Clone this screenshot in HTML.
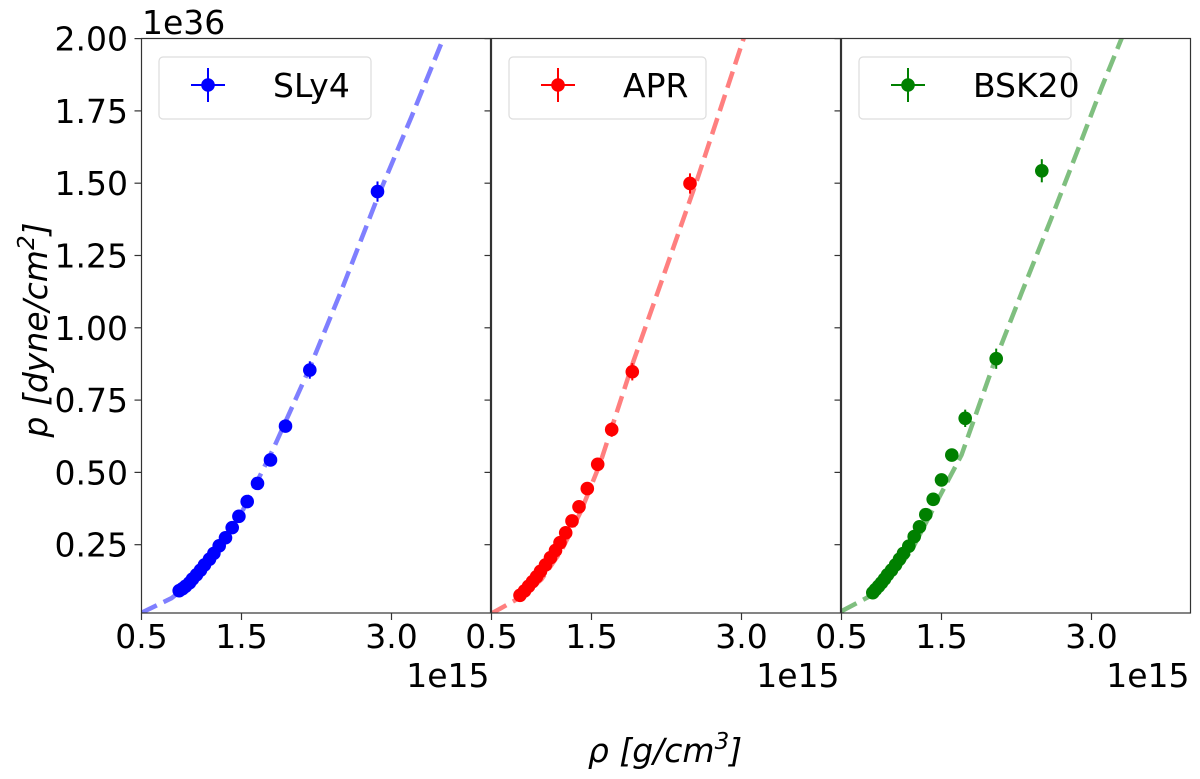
<!DOCTYPE html>
<html><head><meta charset="utf-8">
<style>
html,body{margin:0;padding:0;background:#fff;}
svg{display:block;font-family:"DejaVu Sans","Liberation Sans",sans-serif;}
</style></head>
<body>
<svg id="chart" width="1200" height="779" viewBox="0 0 1200 779" xmlns="http://www.w3.org/2000/svg">
<rect width="1200" height="779" fill="#fff"/>
<g id="root"></g>
</svg>
<script>
// ---- data (rho in 1e15 g/cm^3, p in 1e36 dyne/cm^2) ----
const seriesNames = ["SLy4", "APR", "BSK20"];
const seriesColors = ["#0000ff", "#ff0000", "#008000"];
const sly4Rho = [0.877,0.91,0.94,0.98,1.01,1.05,1.09,1.13,1.18,1.224,1.277,1.34,1.407,1.474,1.557,1.66,1.79,1.94,2.183,2.86];
const sly4P   = [0.091,0.098,0.106,0.118,0.131,0.146,0.162,0.180,0.200,0.220,0.246,0.274,0.309,0.348,0.399,0.462,0.543,0.660,0.854,1.471];
const sly4Err = [0.005,0.005,0.005,0.005,0.006,0.006,0.006,0.007,0.007,0.008,0.008,0.009,0.010,0.011,0.012,0.015,0.018,0.022,0.03,0.035];
const aprRho = [0.785,0.83,0.87,0.91,0.95,0.99,1.04,1.09,1.14,1.185,1.242,1.305,1.375,1.458,1.562,1.702,1.908,2.485];
const aprP   = [0.075,0.090,0.106,0.122,0.139,0.158,0.180,0.205,0.230,0.257,0.291,0.332,0.381,0.444,0.528,0.648,0.848,1.499];
const aprErr = [0.005,0.005,0.005,0.005,0.006,0.006,0.006,0.007,0.007,0.008,0.009,0.010,0.011,0.012,0.018,0.025,0.03,0.035];
const bskRho = [0.813,0.84,0.87,0.90,0.93,0.96,1.00,1.04,1.08,1.12,1.173,1.227,1.28,1.343,1.417,1.50,1.603,1.737,2.047,2.503];
const bskP   = [0.084,0.095,0.106,0.118,0.131,0.146,0.162,0.180,0.200,0.220,0.245,0.278,0.312,0.354,0.407,0.474,0.560,0.687,0.893,1.543];
const bskErr = [0.005,0.005,0.005,0.005,0.006,0.006,0.006,0.007,0.007,0.008,0.009,0.010,0.011,0.012,0.013,0.015,0.02,0.03,0.035,0.04];
const sly4FitRho = [0.5,0.8,1.0,1.2,1.5,1.82,2.18,2.5,2.86,3.2,3.6];
const sly4FitP   = [0.015,0.065,0.12,0.205,0.36,0.583,0.86,1.13,1.45,1.73,2.07];
const aprFitRho = [0.5,0.8,1.0,1.2,1.4,1.585,1.918,2.2,2.552,3.018,3.1];
const aprFitP   = [0.012,0.07,0.13,0.23,0.37,0.53,0.883,1.16,1.508,1.997,2.08];
const bskFitRho = [0.5,0.8,1.0,1.2,1.48,1.7,2.013,2.3,2.6,2.863,3.1,3.3,3.4];
const bskFitP   = [0.02,0.075,0.14,0.23,0.416,0.56,0.866,1.12,1.38,1.615,1.83,2.0,2.09];
const xTicks = [0.5, 1.5, 3.0];
const xTickLabels = ["0.5", "1.5", "3.0"];
const yTicks = [0.25,0.5,0.75,1.0,1.25,1.5,1.75,2.0];
const yTickLabels = ["0.25","0.50","0.75","1.00","1.25","1.50","1.75","2.00"];

const rhoSets=[sly4Rho,aprRho,bskRho], pSets=[sly4P,aprP,bskP], errSets=[sly4Err,aprErr,bskErr];
const fitRhoSets=[sly4FitRho,aprFitRho,bskFitRho], fitPSets=[sly4FitP,aprFitP,bskFitP];

// ---- layout ----
const panelLeft=[141.5,491.5,841.5], panelW=349, plotTop=38.5, plotBottom=613;
const xMin=0.5, pxPerX=100, yMin=0.0138, pxPerY=289.2;
function sx(i,v){return panelLeft[i]+(v-xMin)*pxPerX;}
function sy(v){return plotBottom-(v-yMin)*pxPerY;}

const NS="http://www.w3.org/2000/svg";
const root=document.getElementById('root');
function mk(tag,attrs,parent){const e=document.createElementNS(NS,tag);for(const k in attrs)e.setAttribute(k,attrs[k]);(parent||root).appendChild(e);return e;}

const defs=mk('defs',{});
for(let i=0;i<3;i++){
  const cp=mk('clipPath',{id:'clip'+i},defs);
  mk('rect',{x:panelLeft[i],y:plotTop,width:panelW,height:plotBottom-plotTop},cp);
}

for(let i=0;i<3;i++){
  const g=mk('g',{});
  
  
  const col=seriesColors[i];
  const fr=fitRhoSets[i], fp=fitPSets[i];
  let d='';
  for(let k=0;k<fr.length;k++){d+=(k?'L':'M')+sx(i,fr[k]).toFixed(1)+','+sy(fp[k]).toFixed(1);}
  const fit=mk('path',{d:d,fill:'none',stroke:col,'stroke-opacity':0.5,'stroke-width':4.5,'stroke-dasharray':'17,7.5','clip-path':'url(#clip'+i+')'},g);
  
  
  const r=rhoSets[i], p=pSets[i], e=errSets[i];
  for(let k=0;k<r.length;k++){
    const cx=sx(i,r[k]), cy=sy(p[k]);
    const eb=mk('line',{x1:cx,x2:cx,y1:sy(p[k]+e[k]),y2:sy(p[k]-e[k]),stroke:col,'stroke-width':2},g);
    
    
    const c=mk('circle',{cx:cx,cy:cy,r:6.8,fill:col},g);
    
    
  }
  const fr2=mk('rect',{x:panelLeft[i],y:plotTop,width:panelW,height:plotBottom-plotTop,fill:'none',stroke:'#333','stroke-width':1.2},g);
  
  
  for(let k=0;k<xTicks.length;k++){
    const x=sx(i,xTicks[k]);
    const t=mk('line',{x1:x,x2:x,y1:plotBottom,y2:plotBottom+7,stroke:'#333','stroke-width':1.2},g);
    
    
    const tl=mk('text',{x:x,y:648,'font-size':33,'text-anchor':'middle',fill:'#000'},g);
    tl.textContent=xTickLabels[k];
    
    
  }
  const off=mk('text',{x:panelLeft[i]+panelW-1,y:687,'font-size':33,'text-anchor':'end',fill:'#000'},g);
  off.textContent='1e15';
  
  
  for(let k=0;k<yTicks.length;k++){
    const y=sy(yTicks[k]);
    const t=mk('line',{x1:panelLeft[i]-7,x2:panelLeft[i],y1:y,y2:y,stroke:'#333','stroke-width':1.2},g);
    
    
    if(i===0){
      const tl=mk('text',{x:128,y:y+12,'font-size':33,'text-anchor':'end',fill:'#000'},g);
      tl.textContent=yTickLabels[k];
      
      
    }
  }
  const lx=panelLeft[i]+17.5, ly=57, lw=(i===1?197:212);
  const lg=mk('g',{},g);
  
  
  mk('rect',{x:lx,y:ly,width:lw,height:62,rx:4,fill:'#fff','fill-opacity':0.8,stroke:'#ddd','stroke-width':1.2},lg);
  const mx=lx+49, my=ly+28;
  mk('line',{x1:mx-17,x2:mx+17,y1:my,y2:my,stroke:col,'stroke-width':2},lg);
  mk('line',{x1:mx,x2:mx,y1:my-17,y2:my+17,stroke:col,'stroke-width':2},lg);
  const lm=mk('circle',{cx:mx,cy:my,r:6.8,fill:col},lg);
  
  
  const lt=mk('text',{x:lx+114,y:my+12,'font-size':33,fill:'#000'},lg);
  lt.textContent=seriesNames[i];
  
  
}
const yo=mk('text',{x:142,y:34,'font-size':33,fill:'#000'});
yo.textContent='1e36';


const xt=mk('text',{x:665,y:762,'font-size':33,'text-anchor':'middle',fill:'#000','font-style':'italic'});
xt.textContent='ρ [g/cm';
const xs1=mk('tspan',{'font-size':23,dy:-13},xt); xs1.textContent='3';
const xs2=mk('tspan',{dy:13},xt); xs2.textContent=']';


const yt=mk('text',{x:0,y:0,'font-size':33,'text-anchor':'middle',fill:'#000','font-style':'italic',transform:'translate(47,330) rotate(-90)'});
yt.textContent='p [dyne/cm';
const ys1=mk('tspan',{'font-size':23,dy:-13},yt); ys1.textContent='2';
const ys2=mk('tspan',{dy:13},yt); ys2.textContent=']';


</script>
</body></html>
